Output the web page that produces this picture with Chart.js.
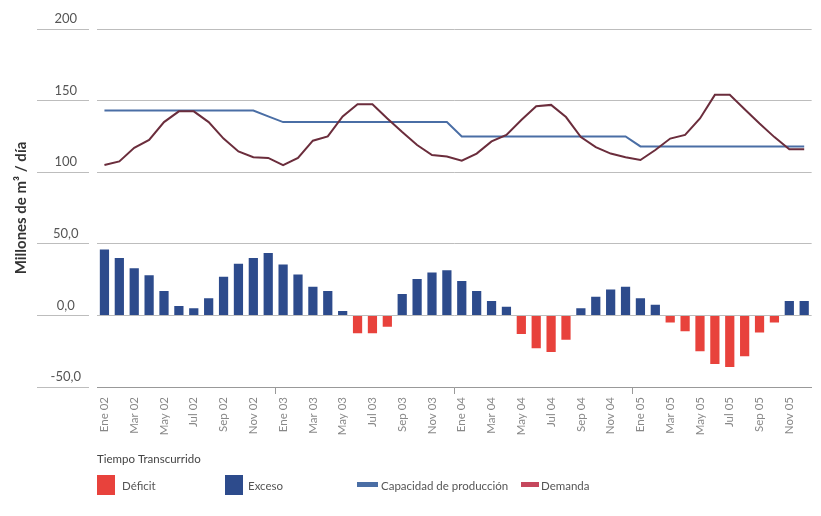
<!DOCTYPE html>
<html>
<head>
<meta charset="utf-8">
<script src="https://cdn.jsdelivr.net/npm/chart.js@4"></script>
<style>
  body { margin: 0; background: #fff; }
  #wrap { position: relative; width: 821px; height: 516px; }
  .leg { position: absolute; font: 11.5px Lato, sans-serif; color: #555; white-space: nowrap; }
  .sw { position: absolute; }
</style>
</head>
<body>
<div id="wrap">
  <canvas id="chart" width="821" height="516"></canvas>
  <div class="sw" style="left:97px;top:475px;width:18px;height:20px;background:#e8423c"></div>
  <div class="leg" style="left:122px;top:479px">Déficit</div>
  <div class="sw" style="left:225px;top:475px;width:18px;height:20px;background:#2d4b8c"></div>
  <div class="leg" style="left:248px;top:479px">Exceso</div>
  <div class="sw" style="left:357px;top:482px;width:21px;height:5px;background:#4a6ea5"></div>
  <div class="leg" style="left:381px;top:479px">Capacidad de producción</div>
  <div class="sw" style="left:521px;top:482px;width:18px;height:5px;background:#c5475c"></div>
  <div class="leg" style="left:541px;top:479px">Demanda</div>
</div>
<script>
// datos (millones de m3 / dia), Ene 02 - Dic 05

const meses = [
  'Ene 02','Feb 02','Mar 02','Abr 02','May 02','Jun 02','Jul 02','Ago 02','Sep 02','Oct 02','Nov 02','Dic 02',
  'Ene 03','Feb 03','Mar 03','Abr 03','May 03','Jun 03','Jul 03','Ago 03','Sep 03','Oct 03','Nov 03','Dic 03',
  'Ene 04','Feb 04','Mar 04','Abr 04','May 04','Jun 04','Jul 04','Ago 04','Sep 04','Oct 04','Nov 04','Dic 04',
  'Ene 05','Feb 05','Mar 05','Abr 05','May 05','Jun 05','Jul 05','Ago 05','Sep 05','Oct 05','Nov 05','Dic 05'
];

// exceso (+) / deficit (-)
const saldo = [
  46, 40, 33, 28, 17, 6.5, 5, 12, 27, 36, 40, 43.5,
  35.5, 28.5, 20, 17, 3, -12.5, -12.5, -8, 15, 25.5, 30, 31.5,
  24, 17, 10, 6, -13, -23, -25.5, -17, 5, 13, 18, 20,
  12, 7.5, -5, -11, -25, -34, -36, -28.5, -12, -5, 10, 10
];

const demanda = [
  105, 107.5, 117, 122.5, 135, 142.5, 142.5, 135, 123.5, 114.5, 110.5, 110,
  105, 110, 122, 125, 139, 147.5, 147.5, 137.5, 128, 119, 112, 111,
  108, 113, 121.5, 126, 136.5, 146, 147, 138.5, 124.5, 117.5, 113, 110.5,
  108.5, 115.5, 123.5, 126, 137.5, 154, 154, 144, 134, 124.5, 116, 116
];

const capacidad = [
  143, 143, 143, 143, 143, 143, 143, 143, 143, 143, 143, 139,
  135, 135, 135, 135, 135, 135, 135, 135, 135, 135, 135, 135,
  125, 125, 125, 125, 125, 125, 125, 125, 125, 125, 125, 125,
  118, 118, 118, 118, 118, 118, 118, 118, 118, 118, 118, 118
];

const yTicks = [-50, 0, 50, 100, 150, 200];

const ctx = document.getElementById('chart').getContext('2d');
Chart.defaults.font.family = 'Lato, sans-serif';

const chart = new Chart(ctx, {
  type: 'bar',
  data: {
    labels: meses,
    datasets: [
      {
        type: 'line',
        label: 'Demanda',
        data: demanda,
        borderColor: '#6b2d3c',
        borderWidth: 2,
        pointRadius: 0,
        tension: 0
      },
      {
        type: 'line',
        label: 'Capacidad de producción',
        data: capacidad,
        borderColor: '#4a6ea5',
        borderWidth: 2,
        pointRadius: 0,
        tension: 0
      },
      {
        label: 'Déficit',
        data: saldo.map(v => v < 0 ? v : null),
        backgroundColor: '#e8423c',
        barPercentage: 0.62,
        categoryPercentage: 1
      },
      {
        label: 'Exceso',
        data: saldo.map(v => v >= 0 ? v : null),
        backgroundColor: '#2d4b8c',
        barPercentage: 0.62,
        categoryPercentage: 1
      }
    ]
  },
  options: {
    responsive: false,
    animation: false,
    layout: { padding: { top: 29, right: 0, bottom: 46, left: 0 } },
    plugins: {
      legend: { display: false },
      tooltip: { enabled: false }
    },
    scales: {
      x: {
        stacked: true,
        afterFit: s => { s.height = 83; },
        border: { color: '#999' },
        grid: {
          drawOnChartArea: false,
          tickLength: 7,
          color: c => (c.index > 0 && c.index < 48 && c.index % 12 === 0) ? '#999' : 'rgba(0,0,0,0)'
        },
        ticks: {
          autoSkip: false,
          minRotation: 90,
          maxRotation: 90,
          padding: 3,
          color: '#888',
          font: { size: 11.5 },
          callback: (v, i) => i % 2 === 0 ? meses[i] : ''
        },
        title: {
          display: true,
          text: 'Tiempo Transcurrido',
          align: 'start',
          color: '#444',
          font: { size: 11.5 },
          padding: { top: 0, bottom: 4 }
        }
      },
      y: {
        min: -50,
        max: 200,
        afterFit: s => { s.width = 97; },
        afterBuildTicks: s => { s.ticks = yTicks.map(v => ({ value: v })); },
        border: { display: false },
        grid: {
          color: '#bdbdbd',
          tickLength: 60,
          tickBorderDash: [52, 8]
        },
        ticks: {
          crossAlign: 'center',
          padding: -44,
          labelOffset: -10,
          color: '#555',
          font: { size: 13 },
          callback: v => v >= 100 ? String(v) : v.toFixed(1).replace('.', ',')
        },
        title: {
          display: true,
          text: 'Millones de m³ / día',
          color: '#333',
          font: { size: 15, weight: 'bold' },
          padding: { top: 12, bottom: 0 }
        }
      }
    }
  }
});
</script>
</body>
</html>
